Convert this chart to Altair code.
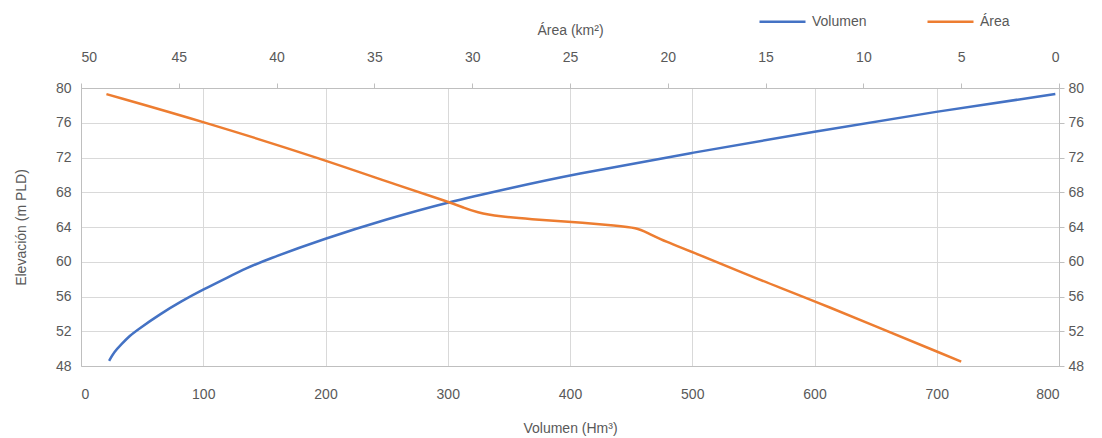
import altair as alt
import pandas as pd

# Curva elevación–volumen
vol_hm3 = [23, 27, 33, 40, 46.5, 65, 82, 100, 120, 136, 150, 200, 250, 300, 350, 400, 500, 600, 700, 797]
vol_elev = [48.6, 49.6, 50.5, 51.5, 52.2, 54.0, 55.45, 56.8, 58.2, 59.3, 60.15, 62.7, 64.9, 66.85, 68.45, 70.0, 72.55, 75.0, 77.3, 79.3]

# Curva elevación–área
area_km2 = [48.7, 43.7, 37.5, 33.7, 31.2, 30.4, 29.8, 28.6, 27.0, 25.0, 22.5, 21.6, 21.1, 20.1, 18.7, 15.3, 12.5, 5.0]
area_elev = [79.3, 76.1, 71.7, 68.7, 66.9, 66.2, 65.7, 65.2, 64.9, 64.6, 64.15, 63.9, 63.4, 62.3, 61.1, 57.9, 55.5, 48.5]

series = ["Volumen", "Área"]
colors = ["#4472C4", "#ED7D31"]
y_ticks = [48, 52, 56, 60, 64, 68, 72, 76, 80]
vol_ticks = [0, 100, 200, 300, 400, 500, 600, 700, 800]
area_ticks = [0, 5, 10, 15, 20, 25, 30, 35, 40, 45, 50]

df_v = pd.DataFrame({"V": vol_hm3, "E": vol_elev, "s": "Volumen"})
df_a = pd.DataFrame({"A": area_km2, "E": area_elev, "s": "Área"})

FONT = "Liberation Sans"
TXT = "#595959"
LINE = "#BFBFBF"
GRID = "#D9D9D9"

color = alt.Color(
    "s:N",
    scale=alt.Scale(domain=series, range=colors),
    legend=alt.Legend(
        title=None, orient="none", legendX=677, legendY=-91,
        direction="horizontal", symbolType="stroke", symbolSize=2116,
        symbolStrokeWidth=2.5, labelFontSize=14, labelColor=TXT,
        labelFont=FONT, labelOffset=5, columnPadding=55,
    ),
)

yscale = alt.Scale(domain=[48, 80], nice=False, zero=False)

blue = alt.Chart(df_v).mark_line(strokeWidth=2.5, interpolate="basis").encode(
    x=alt.X("V:Q", scale=alt.Scale(domain=[0, 800], nice=False),
            axis=alt.Axis(title="Volumen (Hm³)", values=vol_ticks, orient="bottom",
                          grid=True, ticks=False, tickSize=0, labelPadding=21,
                          titlePadding=20)),
    y=alt.Y("E:Q", scale=yscale,
            axis=alt.Axis(title="Elevación (m PLD)", values=y_ticks, orient="left",
                          grid=True, ticks=False, tickSize=0, labelPadding=10,
                          titlePadding=27)),
    color=color,
)

orange = alt.Chart(df_a).mark_line(strokeWidth=2.5, interpolate="basis").encode(
    x=alt.X("A:Q", scale=alt.Scale(domain=[0, 50], reverse=True, nice=False),
            axis=alt.Axis(title="Área (km²)", values=area_ticks, orient="top",
                          grid=False, ticks=True, tickSize=5, labelPadding=19,
                          titlePadding=13)),
    y=alt.Y("E:Q", scale=yscale,
            axis=alt.Axis(title=None, values=y_ticks, orient="right",
                          grid=False, ticks=True, tickSize=5, labelPadding=4)),
    color=color,
)

chart = (
    alt.layer(blue, orange)
    .resolve_scale(x="independent", y="independent")
    .properties(
        width=978, height=278,
        autosize=alt.AutoSizeParams(type="none"),
        padding={"left": 73, "top": 80, "right": 35, "bottom": 72},
    )
    .configure_view(stroke=None)
    .configure_axis(
        labelFont=FONT, titleFont=FONT, labelFontSize=14, titleFontSize=14,
        labelColor=TXT, titleColor=TXT, titleFontWeight="normal",
        domainColor=LINE, tickColor=LINE, gridColor=GRID,
    )
)

chart.save("out.html", embed_options={"renderer": "svg", "actions": False})
